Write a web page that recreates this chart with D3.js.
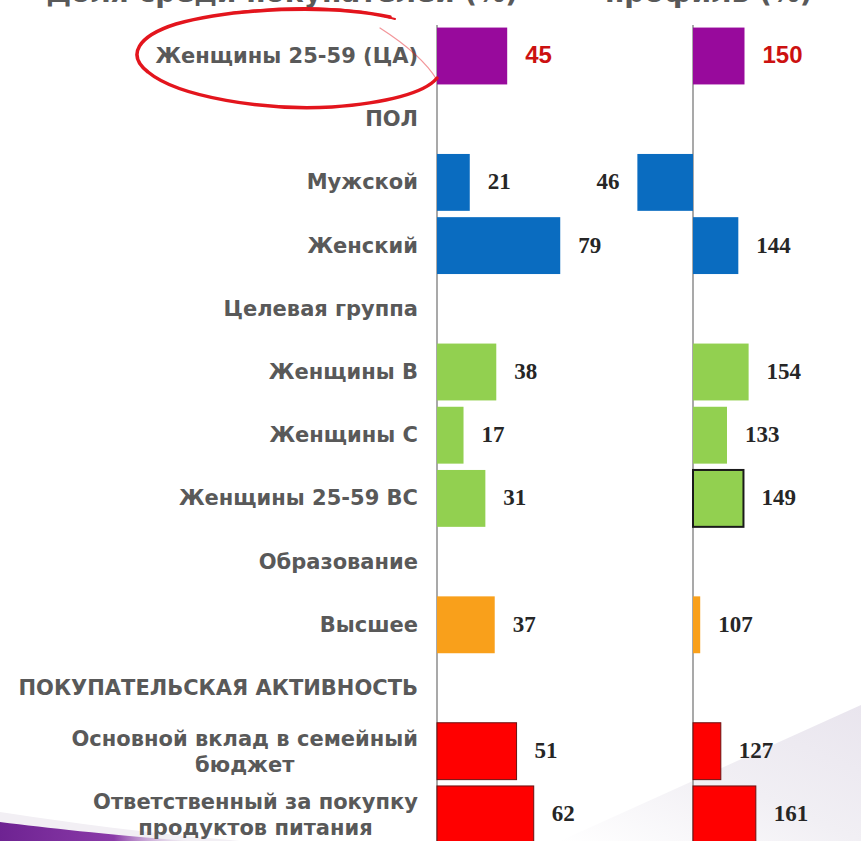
<!doctype html>
<html lang="ru">
<head>
<meta charset="UTF-8">
<title>Профиль ЦА</title>
<script src="https://d3js.org/d3.v7.min.js"></script>
<style>
  body { margin: 0; background: #fff; }
  svg { display: block; }
  .lbl { font-family: "DejaVu Sans", Verdana, sans-serif; font-weight: bold; fill: #595959; }
  .val { font-family: "Liberation Serif", "Times New Roman", serif; font-weight: bold; fill: #262626; }
  .hi { font-family: "Liberation Sans Narrow", "Arial Narrow", sans-serif; font-weight: bold; fill: #cc1111; }
  .ttl { font-family: "DejaVu Sans", Verdana, sans-serif; font-weight: bold; fill: #595959; }
</style>
</head>
<body>
<script>
// rows, top to bottom (null value = section header)
var categories = [
    "Женщины 25-59 (ЦА)",
    "ПОЛ",
    "Мужской",
    "Женский",
    "Целевая группа",
    "Женщины В",
    "Женщины С",
    "Женщины 25-59 ВС",
    "Образование",
    "Высшее",
    "ПОКУПАТЕЛЬСКАЯ АКТИВНОСТЬ",
    "Основной вклад в семейный|бюджет",
    "Ответственный за покупку|продуктов питания"
];
var shareValues = [45, null, 21, 79, null, 38, 17, 31, null, 37, null, 51, 62];
var indexValues = [150, null, 46, 144, null, 154, 133, 149, null, 107, null, 127, 161];
var groups = ["ta", null, "sex", "sex", null, "target", "target", "target", null, "edu", null, "buy", "buy"];
var titles = ["Доля среди покупателей (%)", "профиль (%)"];

var width = 861, height = 841;

var groupColor = {
    ta: "#980a9c",
    sex: "#0a6cc0",
    target: "#92d050",
    edu: "#f9a01b",
    buy: "#ff0000"
};

var svg = d3.select("body").append("svg")
    .attr("width", width)
    .attr("height", height);

// background swooshes
var defs = svg.append("defs");
var g1 = defs.append("linearGradient").attr("id", "swR").attr("x1", 0).attr("y1", 1).attr("x2", 1).attr("y2", 0);
g1.append("stop").attr("offset", 0).attr("stop-color", "#ffffff");
g1.append("stop").attr("offset", 0.5).attr("stop-color", "#f1eff4");
g1.append("stop").attr("offset", 1).attr("stop-color", "#e9e5ee");
var g2 = defs.append("linearGradient").attr("id", "swL").attr("x1", 0).attr("y1", 0).attr("x2", 1).attr("y2", 0);
g2.append("stop").attr("offset", 0).attr("stop-color", "#6e2392");
g2.append("stop").attr("offset", 0.6).attr("stop-color", "#8a3aa8");
g2.append("stop").attr("offset", 1).attr("stop-color", "#d6bfe0").attr("stop-opacity", 0);

svg.append("path")
    .attr("d", "M560,841 L861,705 L861,841 Z")
    .attr("fill", "url(#swR)");
svg.append("path")
    .attr("d", "M0,812 L0,841 L240,841 C170,835 90,826 0,812 Z")
    .attr("fill", "#f2eff4");
svg.append("path")
    .attr("d", "M0,822 C50,828 100,834 190,841 L0,841 Z")
    .attr("fill", "url(#swL)");

// cut-off titles at the very top
svg.append("text").attr("class", "ttl")
    .attr("x", 518).attr("y", 2)
    .attr("text-anchor", "end")
    .style("font-size", "28px")
    .text(titles[0]);
svg.append("text").attr("class", "ttl")
    .attr("x", 605).attr("y", 2)
    .style("font-size", "28px")
    .text(titles[1]);

var y = d3.scaleBand()
    .domain(d3.range(categories.length))
    .range([24.4, 24.4 + categories.length * 63.2])
    .paddingInner(0.1)
    .paddingOuter(0.05);

var xShare = d3.scaleLinear().domain([0, 100]).range([437, 593]);
var xIndex = d3.scaleLinear().domain([0, 200]).range([590, 796]);

// axis lines
[xShare(0), xIndex(100)].forEach(function(x) {
    svg.append("line")
        .attr("x1", x).attr("x2", x)
        .attr("y1", 25).attr("y2", height)
        .attr("stroke", "#8c8c8c")
        .attr("stroke-width", 1.5);
});

var rows = categories.map(function(c, i) {
    return { i: i, name: c, share: shareValues[i], index: indexValues[i], group: groups[i] };
});
var data = rows.filter(function(d) { return d.share !== null; });

// left panel: share bars
svg.append("g").selectAll("rect")
    .data(data)
    .enter()
    .append("rect")
        .attr("x", xShare(0))
        .attr("y", function(d) { return y(d.i); })
        .attr("width", function(d) { return xShare(d.share) - xShare(0); })
        .attr("height", y.bandwidth())
        .attr("fill", function(d) { return groupColor[d.group]; })
        .attr("stroke", function(d) { return d.group === "buy" ? "#6b1010" : "none"; })
        .attr("stroke-width", 1);

// right panel: index bars around 100
svg.append("g").selectAll("rect")
    .data(data)
    .enter()
    .append("rect")
        .attr("x", function(d) { return Math.min(xIndex(100), xIndex(d.index)); })
        .attr("y", function(d) { return y(d.i); })
        .attr("width", function(d) { return Math.abs(xIndex(d.index) - xIndex(100)); })
        .attr("height", y.bandwidth())
        .attr("fill", function(d) { return groupColor[d.group]; })
        .attr("stroke", function(d) {
            if (d.i === 7) return "#1a1a1a";
            return d.group === "buy" ? "#6b1010" : "none";
        })
        .attr("stroke-width", function(d) { return d.i === 7 ? 2 : 1; });

// value labels
svg.append("g").selectAll("text")
    .data(data)
    .enter()
    .append("text")
        .attr("class", function(d) { return d.group === "ta" ? "hi" : "val"; })
        .attr("x", function(d) { return xShare(d.share) + 18; })
        .attr("y", function(d) { return y(d.i) + y.bandwidth() / 2 + 7; })
        .style("font-size", function(d) { return d.group === "ta" ? "24px" : "23px"; })
        .text(function(d) { return d.share; });

svg.append("g").selectAll("text")
    .data(data)
    .enter()
    .append("text")
        .attr("class", function(d) { return d.group === "ta" ? "hi" : "val"; })
        .attr("x", function(d) {
            return d.index < 100 ? xIndex(d.index) - 18 : xIndex(d.index) + 18;
        })
        .attr("text-anchor", function(d) { return d.index < 100 ? "end" : "start"; })
        .attr("y", function(d) { return y(d.i) + y.bandwidth() / 2 + 7; })
        .style("font-size", function(d) { return d.group === "ta" ? "24px" : "23px"; })
        .text(function(d) { return d.index; });

// category labels
var labelRight = 418;
rows.forEach(function(d) {
    var lines = d.name.split("|");
    var cy = y(d.i) + y.bandwidth() / 2;
    if (lines.length === 1) {
        svg.append("text").attr("class", "lbl")
            .attr("x", labelRight)
            .attr("y", cy + 7)
            .attr("text-anchor", "end")
            .style("font-size", "21px")
            .text(lines[0]);
    } else {
        var t = svg.append("text").attr("class", "lbl")
            .attr("x", labelRight)
            .attr("y", cy - 5)
            .attr("text-anchor", "end")
            .style("font-size", "21px")
            .text(lines[0]);
        var w = t.node().getComputedTextLength();
        svg.append("text").attr("class", "lbl")
            .attr("x", labelRight - w / 2)
            .attr("y", cy + 21)
            .attr("text-anchor", "middle")
            .style("font-size", "21px")
            .text(lines[1]);
    }
});

// hand-drawn red ellipse around the target audience label
var ring = svg.append("g").attr("fill", "none").attr("stroke", "#e3151d").attr("stroke-linecap", "round");
ring.append("path")
    .attr("d", "M390,17 C330,4 232,8 176,24 C138,36 126,55 148,72 C178,97 265,111 332,107 C386,103 425,93 437,78")
    .attr("stroke-width", 3.5);
ring.append("path")
    .attr("d", "M232,13 C290,5 350,6 395,19")
    .attr("stroke-width", 2);
ring.append("path")
    .attr("d", "M380,28 C405,44 425,60 437,80")
    .attr("stroke-width", 1.2)
    .attr("opacity", 0.45);
</script>
</body>
</html>
